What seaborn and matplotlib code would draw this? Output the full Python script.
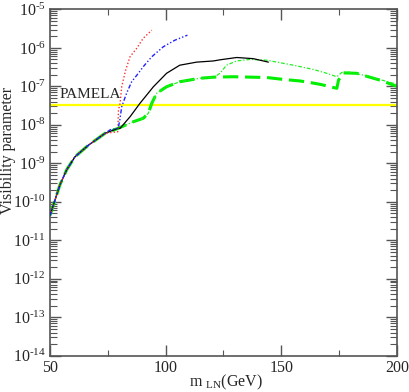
import numpy as np
import pandas as pd
import matplotlib
matplotlib.use("Agg")
import matplotlib.pyplot as plt
import seaborn as sns
from matplotlib.ticker import LogLocator, FixedLocator, FixedFormatter, MultipleLocator, NullFormatter

sns.set_style("ticks")
plt.rcParams['font.family'] = ['Liberation Serif', 'DejaVu Serif']
plt.rcParams['mathtext.fontset'] = 'custom'
plt.rcParams['mathtext.rm'] = 'Liberation Serif'
plt.rcParams['mathtext.it'] = 'Liberation Serif:italic'

# --- data (x in GeV, y as log10 of visibility parameter) ---
common_x = [50, 52.2, 54.3, 57.2, 60.8, 66.6, 73.8, 79.5]
common_log = [-10.36, -9.95, -9.56, -9.17, -8.83, -8.53, -8.22, -8.09]

thick_green_x = common_x + [86, 90.3, 92.5, 94, 96.1, 100.4, 106.1, 114.8, 121, 129.3, 143.7,
                            150.9, 158.1, 162.4, 167, 172.5, 174, 174.7, 176.8, 182.5, 192.7, 200]
thick_green_log = common_log + [-7.92, -7.83, -7.70, -7.44, -7.18, -7.01, -6.88, -6.79, -6.76, -6.75, -6.77,
                                -6.82, -6.86, -6.90, -6.95, -7.03, -7.05, -6.84, -6.65, -6.66, -6.84, -7.0]

thin_green_x = common_x + [86, 90.3, 92.5, 94, 96.1, 100.4, 106.1, 114.8, 121,
                           123.5, 126.3, 130.6, 136.5, 143.7, 155.2, 163.8, 169.6, 174, 176.1, 178.5, 187.1, 198.4, 200]
thin_green_log = common_log + [-7.92, -7.83, -7.70, -7.44, -7.18, -7.01, -6.88, -6.79, -6.76,
                               -6.66, -6.45, -6.34, -6.30, -6.32, -6.45, -6.56, -6.66, -6.75, -6.64, -6.62, -6.73, -6.92, -6.95]

black_x = common_x + [80.3, 84.6, 88.9, 94.7, 100.4, 106.1, 113.4, 120.6, 123.5, 130.7, 137.9, 144.4]
black_log = common_log + [-8.09, -7.79, -7.44, -7.01, -6.66, -6.45, -6.37, -6.34, -6.31, -6.25, -6.28, -6.37]

red_x = common_x[:-1] + [79.3, 79.6, 80.3, 81, 82.7, 84.6, 87.5, 90.3, 94]
red_log = common_log[:-1] + [-8.18, -7.62, -7.44, -7.01, -6.58, -6.23, -6.01, -5.75, -5.54]

blue_x = common_x[:-1] + [76, 79.5, 80.2, 81, 83.1, 85.3, 88.2, 90.3, 94, 99, 104, 109.4]
blue_log = common_log[:-1] + [-8.13, -8.09, -7.87, -7.53, -7.18, -6.88, -6.66, -6.49, -6.23, -5.97, -5.80, -5.67]

pamela_level = 3.25e-8
xticks = [50, 100, 150, 200]
yexp = [-14, -13, -12, -11, -10, -9, -8, -7, -6, -5]

fig = plt.figure(figsize=(4.09, 3.92), dpi=100)
ax = fig.add_axes([0.1222, 0.0926, 0.8485, 0.8834])

def draw(xs, logs, **kw):
    df = pd.DataFrame({"x": xs, "y": np.power(10.0, logs)})
    sns.lineplot(data=df, x="x", y="y", ax=ax, estimator=None, sort=False, **kw)

ax.axhline(pamela_level, color="#ffff00", lw=1.6, zorder=1)
draw(thick_green_x, thick_green_log, color="#00ee00", lw=2.2, dashes=(5, 2.2), zorder=2)
draw(thin_green_x, thin_green_log, color="#22ee22", lw=0.9, dashes=(3, 1.5, 1, 1.5), zorder=2)
draw(black_x, black_log, color="black", lw=0.9, zorder=3)
draw(red_x, red_log, color="#ff3030", lw=1.0, dashes=(1, 1.5), zorder=3)
draw(blue_x, blue_log, color="#2020ff", lw=1.0, dashes=(3, 1.5, 1, 1.5, 1, 1.5), zorder=3)

ax.set_yscale("log")
ax.set_xlim(50, 200)
ax.set_ylim(1e-14, 1e-5)

ax.xaxis.set_major_locator(FixedLocator(xticks))
ax.xaxis.set_major_formatter(FixedFormatter([str(v) for v in xticks]))
ax.xaxis.set_minor_locator(MultipleLocator(25))
ax.yaxis.set_major_locator(FixedLocator([10.0 ** e for e in yexp]))
ax.yaxis.set_major_formatter(FixedFormatter([r"$\mathregular{10^{\text{-%d}}}$" % -e for e in yexp]))
ax.yaxis.set_minor_locator(LogLocator(base=10, subs=np.arange(2, 10), numticks=50))
ax.yaxis.set_minor_formatter(NullFormatter())

for s in ax.spines.values():
    s.set_color("#555555")
    s.set_linewidth(1.2)
ax.tick_params(which="both", direction="in", top=True, right=True, color="#555555")
ax.tick_params(which="major", length=8, width=1.0, labelsize=11.5)
ax.tick_params(axis="x", which="major", pad=3)
ax.tick_params(axis="y", which="major", pad=3)
ax.tick_params(which="minor", length=4, width=0.8)
ax.tick_params(axis="y", which="minor", length=5)

ax.text(54, 10 ** -7.2, "PAMELA", fontsize=11, va="center", ha="left")
ax.set_xlabel("")
ax.set_ylabel("")
fig.text(226 / 409, 1 - 373 / 392, r"m $_{\mathregular{LN}}$(GeV)", fontsize=11.5, ha="center", va="top")
fig.text(8 / 409, 1 - 150 / 392, "Visibility parameter", fontsize=11.5, rotation=90, ha="center", va="center")

fig.savefig("out.png", dpi=100)
